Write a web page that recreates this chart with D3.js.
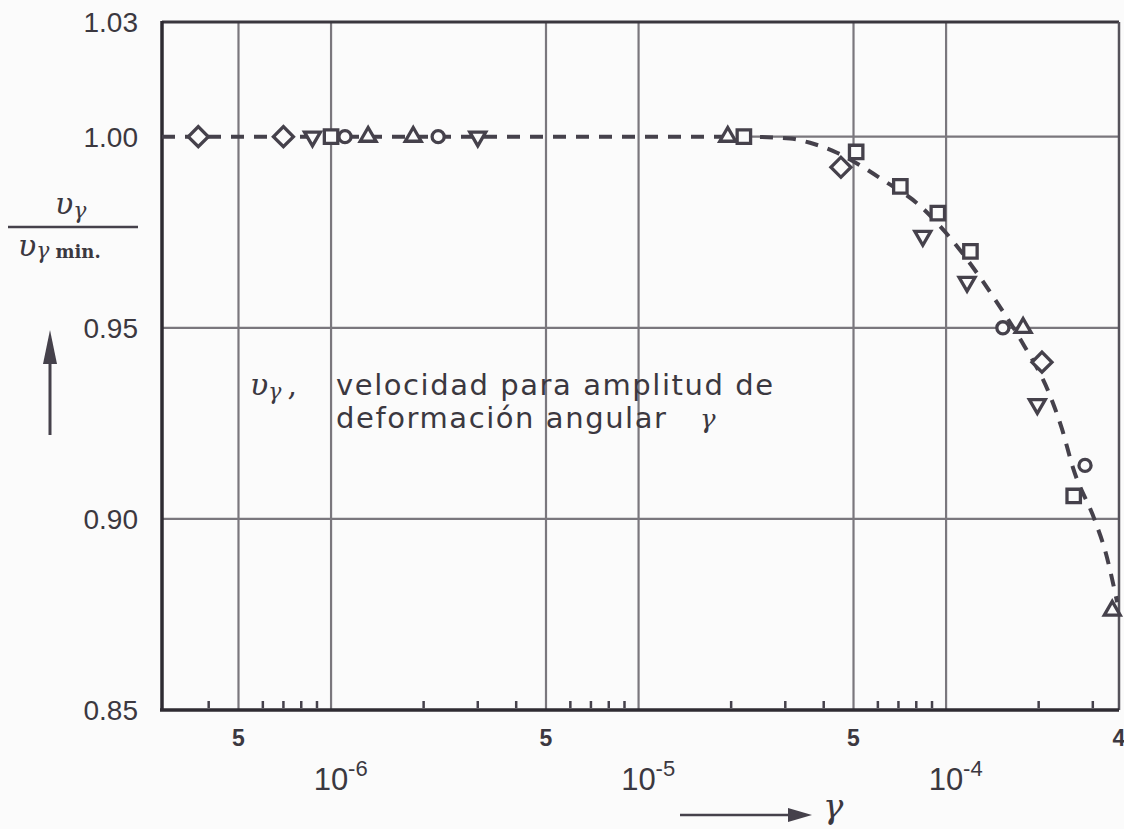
<!DOCTYPE html>
<html>
<head>
<meta charset="utf-8">
<script src="https://cdn.jsdelivr.net/npm/d3@7"></script>
<style>
  body { margin: 0; background: #fbfbfb; }
  svg { display: block; }
</style>
</head>
<body>
<script>
// chart data
var yTicks = [0.85, 0.90, 0.95, 1.00, 1.03];
var yGrid = [0.90, 0.95];
var xGrid = [5e-7, 1e-6, 5e-6, 1e-5, 5e-5, 1e-4];
var xFiveVals = [5e-7, 5e-6, 5e-5, 3.65e-4];
var xFiveText = ["5", "5", "5", "4"];
var xDecades = [1e-6, 1e-5, 1e-4];
var xDecadeExp = ["-6", "-5", "-4"];
var xSmallTicks = [4e-7, 6e-7, 7e-7, 8e-7, 9e-7, 2e-6, 3e-6, 4e-6, 6e-6, 7e-6, 8e-6, 9e-6,
                   2e-5, 3e-5, 4e-5, 6e-5, 7e-5, 8e-5, 9e-5, 2e-4, 3e-4];

// measured points, one list per marker
var diamondPts = [[3.7e-7, 1.0], [7.0e-7, 1.0], [4.55e-5, 0.992], [2.05e-4, 0.941]];
var squarePts = [[1.0e-6, 1.0], [2.2e-5, 1.0], [5.1e-5, 0.996], [7.1e-5, 0.987],
                 [9.4e-5, 0.980], [1.2e-4, 0.970], [2.6e-4, 0.906]];
var circlePts = [[1.11e-6, 1.0], [2.23e-6, 1.0], [1.53e-4, 0.950], [2.83e-4, 0.914]];
var triUpPts = [[1.32e-6, 1.0], [1.85e-6, 1.0], [1.95e-5, 1.0], [1.78e-4, 0.950], [3.47e-4, 0.876]];
var triDownPts = [[8.7e-7, 1.0], [3.0e-6, 1.0], [8.4e-5, 0.974], [1.17e-4, 0.962], [1.98e-4, 0.930]];

// hand drawn dashed curve
var curveGamma = [2.82e-7, 2.2e-5, 3.11e-5, 3.61e-5, 4.42e-5, 5.45e-5, 6.33e-5, 8.04e-5, 1.0e-4,
                  1.443e-4, 1.767e-4, 2.18e-4, 2.38e-4, 2.59e-4, 3.05e-4, 3.29e-4, 3.6e-4];
var curveRatio = [1.0, 1.0, 0.9995, 0.9984, 0.9958, 0.9917, 0.9883, 0.9826, 0.9748,
                  0.9574, 0.9462, 0.9322, 0.9236, 0.9132, 0.8995, 0.8917, 0.8782];

var ink = "#45414b";
var gridCol = "#7a777d";
var txt = "#3b3840";

var svg = d3.select("body").append("svg")
    .attr("width", 1124)
    .attr("height", 829);

var x = d3.scaleLog().domain([2.82e-7, 3.65e-4]).range([162, 1119]);
var y = d3.scaleLinear().domain([0.85, 1.03]).range([710, 22]);

// grid
svg.selectAll(".vgrid")
  .data(xGrid)
  .enter()
  .append("line")
  .attr("class", "vgrid")
  .attr("x1", function(d){ return x(d); })
  .attr("x2", function(d){ return x(d); })
  .attr("y1", y(1.03))
  .attr("y2", y(0.85))
  .attr("stroke", gridCol)
  .attr("stroke-width", 2.2);

svg.selectAll(".hgrid")
  .data(yGrid)
  .enter()
  .append("line")
  .attr("class", "hgrid")
  .attr("x1", x.range()[0])
  .attr("x2", x.range()[1])
  .attr("y1", function(d){ return y(d); })
  .attr("y2", function(d){ return y(d); })
  .attr("stroke", gridCol)
  .attr("stroke-width", 2.2);

// the 1.00 line only shows where the curve leaves it
svg.append("line")
  .attr("x1", x(curveGamma[1]))
  .attr("x2", x.range()[1])
  .attr("y1", y(1.0))
  .attr("y2", y(1.0))
  .attr("stroke", gridCol)
  .attr("stroke-width", 2.2);

// small ticks along the bottom
svg.selectAll(".mtick")
  .data(xSmallTicks)
  .enter()
  .append("line")
  .attr("class", "mtick")
  .attr("x1", function(d){ return x(d); })
  .attr("x2", function(d){ return x(d); })
  .attr("y1", y(0.85) - 9)
  .attr("y2", y(0.85) - 2)
  .attr("stroke", ink)
  .attr("stroke-width", 2.5);

// frame
svg.append("line").attr("x1", 162).attr("x2", 1119).attr("y1", y(1.03)).attr("y2", y(1.03))
  .attr("stroke", "#3a373e").attr("stroke-width", 3);
svg.append("line").attr("x1", 1119).attr("x2", 1119).attr("y1", y(1.03)).attr("y2", y(0.85))
  .attr("stroke", "#55525a").attr("stroke-width", 2.5);
svg.append("line").attr("x1", 162).attr("x2", 162).attr("y1", y(1.03) - 1).attr("y2", y(0.85) + 1)
  .attr("stroke", "#2e2b32").attr("stroke-width", 3.5);
svg.append("line").attr("x1", 160).attr("x2", 1119).attr("y1", y(0.85)).attr("y2", y(0.85))
  .attr("stroke", "#2e2b32").attr("stroke-width", 3.5);

// dashed curve
var line = d3.line()
  .x(function(d){ return x(d[0]); })
  .y(function(d){ return y(d[1]); })
  .curve(d3.curveMonotoneX);

svg.append("path")
  .datum(d3.zip(curveGamma, curveRatio))
  .attr("d", line)
  .attr("fill", "none")
  .attr("stroke", ink)
  .attr("stroke-width", 4)
  .attr("stroke-dasharray", "13,10");

// markers
var markerSets = [
  {pts: diamondPts, type: d3.symbolSquare, size: 200, rot: 45},
  {pts: squarePts, type: d3.symbolSquare, size: 180, rot: 0},
  {pts: circlePts, type: d3.symbolCircle, size: 115, rot: 0},
  {pts: triUpPts, type: d3.symbolTriangle, size: 110, rot: 0},
  {pts: triDownPts, type: d3.symbolTriangle, size: 110, rot: 180}
];

markerSets.forEach(function(m, i){
  svg.selectAll(".mk" + i)
    .data(m.pts)
    .enter()
    .append("path")
    .attr("class", "mk" + i)
    .attr("d", d3.symbol().type(m.type).size(m.size))
    .attr("fill", "#fbfbfb")
    .attr("stroke", ink)
    .attr("stroke-width", 3.3)
    .attr("transform", function(d){
      return "translate(" + x(d[0]) + "," + y(d[1]) + ") rotate(" + m.rot + ")";
    });
});

// y tick labels
svg.selectAll(".ylab")
  .data(yTicks)
  .enter()
  .append("text")
  .attr("class", "ylab")
  .attr("x", 138)
  .attr("y", function(d){ return y(d) + 10; })
  .attr("text-anchor", "end")
  .attr("font-family", "Liberation Sans, Arial, sans-serif")
  .attr("font-size", 28)
  .attr("fill", txt)
  .text(function(d){ return d.toFixed(2); });

// x tick labels: the "5" and "4" marks
svg.selectAll(".xfive")
  .data(xFiveVals)
  .enter()
  .append("text")
  .attr("class", "xfive")
  .attr("x", function(d){ return x(d); })
  .attr("y", 746)
  .attr("text-anchor", "middle")
  .attr("font-family", "Liberation Sans, Arial, sans-serif")
  .attr("font-weight", "bold")
  .attr("font-size", 23)
  .attr("fill", txt)
  .text(function(d, i){ return xFiveText[i]; });

// decade labels 10^-n
var dec = svg.selectAll(".xdec")
  .data(xDecades)
  .enter()
  .append("g")
  .attr("class", "xdec")
  .attr("transform", function(d){ return "translate(" + x(d) + ",790)"; });

dec.append("text")
  .attr("text-anchor", "middle")
  .attr("font-family", "Liberation Sans, Arial, sans-serif")
  .attr("font-size", 31)
  .attr("fill", txt)
  .text("10");

dec.append("text")
  .attr("x", 17)
  .attr("y", -14)
  .attr("font-family", "Liberation Sans, Arial, sans-serif")
  .attr("font-size", 22)
  .attr("fill", txt)
  .text(function(d, i){ return xDecadeExp[i]; });

// x axis title: arrow and gamma
svg.append("line")
  .attr("x1", 680).attr("x2", 798).attr("y1", 815).attr("y2", 815)
  .attr("stroke", ink).attr("stroke-width", 2.5);
svg.append("path")
  .attr("d", "M788,808 L812,815 L788,822 Z")
  .attr("fill", ink);
svg.append("text")
  .attr("x", 823).attr("y", 818)
  .attr("font-family", "DejaVu Serif, serif")
  .attr("font-style", "italic")
  .attr("font-size", 34)
  .attr("fill", txt)
  .text("γ");

// y axis title: fraction and upward arrow
svg.append("line")
  .attr("x1", 8).attr("x2", 138).attr("y1", 227).attr("y2", 227)
  .attr("stroke", ink).attr("stroke-width", 2.5);

var num = svg.append("text")
  .attr("x", 55).attr("y", 214)
  .attr("font-family", "DejaVu Serif, serif")
  .attr("font-style", "italic")
  .attr("font-size", 30)
  .attr("fill", txt);
num.append("tspan").text("υ");
num.append("tspan").attr("font-size", 22).attr("dy", 4).text("γ");

var den = svg.append("text")
  .attr("x", 18).attr("y", 256)
  .attr("font-family", "DejaVu Serif, serif")
  .attr("font-style", "italic")
  .attr("font-size", 30)
  .attr("fill", txt);
den.append("tspan").text("υ");
den.append("tspan").attr("font-size", 22).attr("dy", 2).text("γ");
den.append("tspan").attr("font-size", 18).attr("font-style", "normal")
  .attr("font-weight", "bold").attr("dx", 6).text("min.");

svg.append("line")
  .attr("x1", 50).attr("x2", 50).attr("y1", 435).attr("y2", 350)
  .attr("stroke", ink).attr("stroke-width", 3);
svg.append("path")
  .attr("d", "M43,364 L50,330 L57,364 Z")
  .attr("fill", ink);

// note inside the plot
var note = svg.append("text")
  .attr("x", 250).attr("y", 395)
  .attr("font-family", "DejaVu Serif, serif")
  .attr("font-style", "italic")
  .attr("font-size", 30)
  .attr("fill", txt);
note.append("tspan").text("υ");
note.append("tspan").attr("font-size", 22).attr("dy", 4).text("γ");
note.append("tspan").attr("font-style", "normal").attr("dy", -4).attr("dx", 6).text(",");

svg.append("text")
  .attr("x", 336).attr("y", 395)
  .attr("font-family", "DejaVu Sans, sans-serif")
  .attr("font-size", 29)
  .attr("textLength", 437)
  .attr("lengthAdjust", "spacing")
  .attr("fill", txt)
  .text("velocidad para amplitud de");

svg.append("text")
  .attr("x", 336).attr("y", 428)
  .attr("font-family", "DejaVu Sans, sans-serif")
  .attr("font-size", 29)
  .attr("textLength", 330)
  .attr("lengthAdjust", "spacing")
  .attr("fill", txt)
  .text("deformación angular");

svg.append("text")
  .attr("x", 700).attr("y", 428)
  .attr("font-family", "DejaVu Serif, serif")
  .attr("font-style", "italic")
  .attr("font-size", 26)
  .attr("fill", txt)
  .text("γ");
</script>
</body>
</html>
